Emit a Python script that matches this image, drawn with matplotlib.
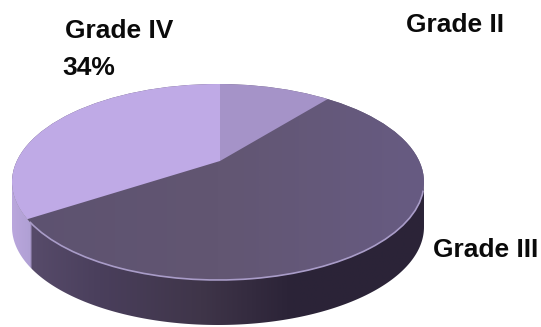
import numpy as np
import matplotlib
matplotlib.use('Agg')
import matplotlib.pyplot as plt
from matplotlib.patches import Arc, Circle, Polygon
from matplotlib.colors import LinearSegmentedColormap

# Tumour grade shares in percent, clockwise from the top
labels = ['Grade II', 'Grade III', 'Grade IV']
shares = [11, 55, 34]
colors = ['#a593c8', '#64587a', '#bfaae6']

# Layout of the tilted disc, in pixels
width, height = 541, 327
cx, cy = 218, 182
rx, ry = 206, 98
apex_x, apex_y = 220, 161
depth = 45
squash = ry / rx


def to_y(py):
    # y axis stays in stretched units so a circle shows up as the flat ellipse
    return -py / squash


fig = plt.figure(figsize=(width / 100, height / 100), dpi=100)
ax = fig.add_axes([0, 0, 1, 1])

# Wall of the disc: a horizontal gradient clipped to the swept ellipse
t = np.linspace(np.pi, 2 * np.pi, 200)
xs = cx + rx * np.cos(t)
ys = to_y(cy) + rx * np.sin(t)
wall = np.concatenate([
    np.column_stack([xs, ys - depth / squash]),
    np.column_stack([xs[::-1], ys[::-1]]),
])
wall_patch = Polygon(wall, closed=True, transform=ax.transData, fc='none', ec='none')
ax.add_patch(wall_patch)

wall_cmap = LinearSegmentedColormap.from_list('wall', [
    (0.0, '#b9a6dc'), (0.042, '#b0a0d4'), (0.046, '#574b6a'), (0.21, '#4a3f5c'),
    (0.46, '#3f3549'), (0.68, '#2b2337'), (1.0, '#2b2438'),
])
gradient = np.linspace(0, 1, 400).reshape(1, -1)
img = ax.imshow(gradient, cmap=wall_cmap, aspect='auto', interpolation='bilinear',
                extent=[cx - rx, cx + rx, to_y(cy + depth + ry), to_y(cy)], zorder=1)
img.set_clip_path(wall_patch)

# Top face: oversized wedges around the off-centre apex, cut by the ellipse
wedges, _ = ax.pie(shares, colors=colors, startangle=90, counterclock=False,
                   center=(apex_x, to_y(apex_y)), radius=2000, frame=True)
face = Circle((cx, to_y(cy)), rx, transform=ax.transData, fc='none', ec='none')
ax.add_patch(face)
for w in wedges:
    w.set_zorder(3)
    w.set_clip_on(True)
    w.set_clip_path(face)

# Grade III gets a soft left to right shading, the other slices sit above it
wedges[1].set_zorder(2)
face_cmap = LinearSegmentedColormap.from_list('face', ['#5d5270', '#625672', '#675b82'])
shade = ax.imshow(gradient, cmap=face_cmap, aspect='auto', interpolation='bilinear',
                  extent=[cx - rx, cx + rx, to_y(cy + ry), to_y(cy - ry)], zorder=2.5)
shade.set_clip_path(face)

# Thin highlight along the front edge of the Grade III slice
ax.add_patch(Arc((cx, to_y(cy)), 2 * rx, 2 * rx, theta1=204, theta2=355,
                 color='#a99cc8', lw=1.2, zorder=4))

ax.set_aspect('auto')
ax.set_xlim(0, width)
ax.set_ylim(to_y(height), to_y(0))
ax.axis('off')

font = {'family': 'Liberation Sans', 'weight': 'bold', 'color': '#0a0a0a', 'fontsize': 19}
ax.text(65, to_y(31), labels[2], va='center', **font)
ax.text(62, to_y(68), '34%', va='center', **font)
ax.text(406, to_y(25.5), labels[0], va='center', **font)
ax.text(433, to_y(250), labels[1], va='center', **font)

fig.savefig('out.png', dpi=100)
